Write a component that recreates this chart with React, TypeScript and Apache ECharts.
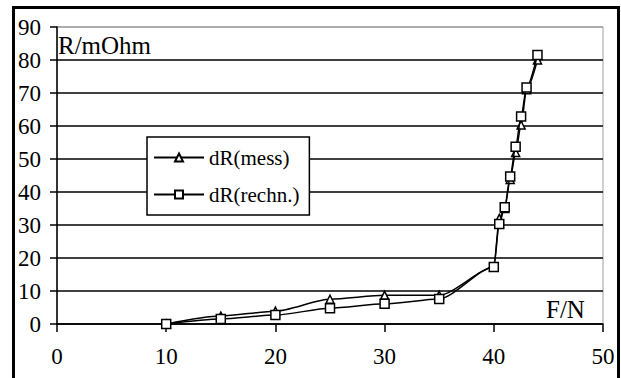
import React, { useEffect, useRef } from "react";
import * as echarts from "echarts";

const xValues = [10, 15, 20, 25, 30, 35, 40, 40.5, 41, 41.5, 42, 42.5, 43, 44];
const messValues = [0, 2.4, 3.9, 7.5, 8.7, 8.7, 17.2, 32, 35, 43.8, 52, 60.3, 71, 80];
const rechnValues = [0, 1.5, 2.7, 4.8, 6.1, 7.6, 17.3, 30.3, 35.4, 44.7, 53.7, 62.9, 71.7, 81.5];
const seriesNames = ["dR(mess)", "dR(rechn.)"];
const xTitle = "F/N";
const yTitle = "R/mOhm";

const FONT = "Liberation Serif";

export default function App() {
  const ref = useRef<HTMLDivElement>(null);
  useEffect(() => {
    if (!ref.current) return;
    const chart = echarts.init(ref.current, null, { renderer: "svg" });
    const zip = (ys: number[]) => xValues.map((x, i) => [x, ys[i]]);
    const gridColors = ["#000", "#000", "#000", "#000", "#000", "#000", "#000", "#000", "#000", "#a0a0a0"];
    chart.setOption({
      animation: false,
      backgroundColor: "#fff",
      textStyle: { fontFamily: FONT },
      grid: {
        left: 57,
        right: 18,
        top: 27,
        bottom: 54,
        show: true,
        borderColor: "#a0a0a0",
        borderWidth: 1,
        backgroundColor: "transparent",
      },
      xAxis: {
        type: "value",
        min: 0,
        max: 50,
        interval: 10,
        axisLine: { show: true, onZero: false, lineStyle: { color: "#000", width: 1.5 } },
        axisTick: { show: true, inside: false, length: 8, lineStyle: { color: "#000", width: 1.5 } },
        splitLine: { show: false },
        axisLabel: { fontFamily: FONT, fontSize: 23, color: "#000", margin: 21 },
      },
      yAxis: {
        type: "value",
        min: 0,
        max: 90,
        interval: 10,
        axisLine: { show: true, onZero: false, lineStyle: { color: "#000", width: 1.5 } },
        axisTick: { show: true, inside: false, length: 7, lineStyle: { color: "#000", width: 1.5 } },
        splitLine: { show: true, lineStyle: { color: gridColors, width: 1.5 } },
        axisLabel: { fontFamily: FONT, fontSize: 23, color: "#000", margin: 16 },
      },
      legend: {
        orient: "vertical",
        left: 147,
        top: 137,
        padding: [10, 10, 10, 6],
        itemGap: 16,
        itemWidth: 50,
        itemHeight: 10,
        borderColor: "#000",
        borderWidth: 1.5,
        borderRadius: 0,
        backgroundColor: "#fff",
        textStyle: { fontFamily: FONT, fontSize: 21, color: "#000" },
        data: seriesNames,
      },
      series: [
        {
          name: seriesNames[0],
          type: "line",
          data: zip(messValues),
          smooth: 0.25,
          smoothMonotone: "x",
          symbol: "triangle",
          symbolSize: 8,
          lineStyle: { color: "#000", width: 1.5 },
          itemStyle: { color: "#fff", borderColor: "#000", borderWidth: 1.5 },
          z: 3,
        },
        {
          name: seriesNames[1],
          type: "line",
          data: zip(rechnValues),
          smooth: 0.25,
          smoothMonotone: "x",
          symbol: "rect",
          symbolSize: 9,
          lineStyle: { color: "#000", width: 1.5 },
          itemStyle: { color: "#fff", borderColor: "#000", borderWidth: 1.5 },
          z: 4,
        },
      ],
      graphic: [
        {
          type: "text",
          left: 58,
          top: 33,
          style: { text: yTitle, fontFamily: FONT, fontSize: 25, fill: "#000" },
          z: 10,
        },
        {
          type: "text",
          left: 546,
          top: 297,
          style: { text: xTitle, fontFamily: FONT, fontSize: 25, fill: "#000" },
          z: 10,
        },
        {
          type: "rect",
          shape: { x: 13.5, y: 7.5, width: 605, height: 380 },
          style: { fill: "none", stroke: "#000", lineWidth: 3 },
          z: 20,
        },
      ],
    });
    return () => chart.dispose();
  }, []);
  return (
    <div
      ref={ref}
      style={{ position: "absolute", left: 0, top: 0, width: 621, height: 378 }}
    />
  );
}
